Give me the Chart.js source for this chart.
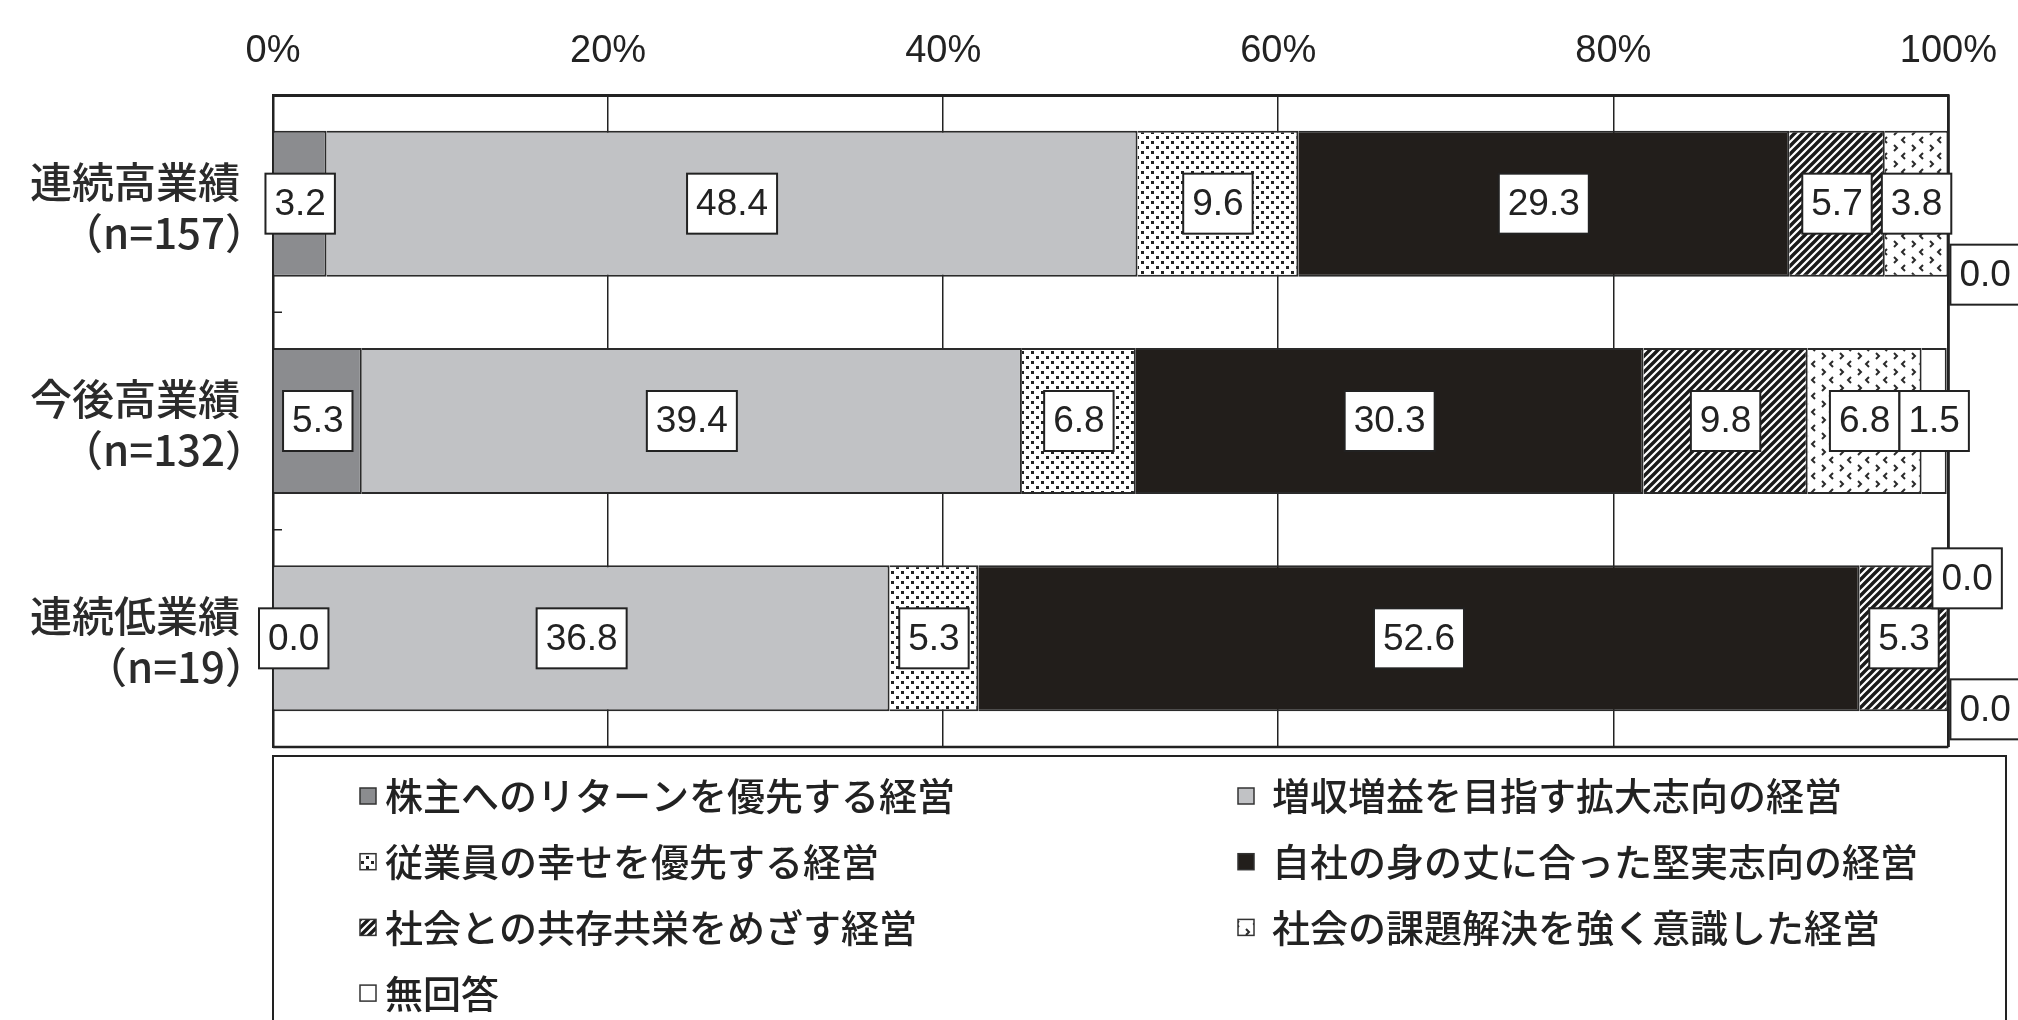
<!DOCTYPE html>
<html lang="ja">
<head>
<meta charset="utf-8">
<script src="https://cdn.jsdelivr.net/npm/chart.js@4.4.1/dist/chart.umd.min.js"></script>
<style>
  html, body { margin: 0; padding: 0; background: #fff; }
  #wrap { width: 2018px; height: 1020px; }
</style>
</head>
<body>
<div id="wrap"><canvas id="chart" width="2018" height="1020"></canvas></div>
<script>
// 回答区分
const categories = [
  ['連続高業績', '（n=157）'],
  ['今後高業績', '（n=132）'],
  ['連続低業績', '（n=19）']
];
const seriesNames = [
  '株主へのリターンを優先する経営',
  '増収増益を目指す拡大志向の経営',
  '従業員の幸せを優先する経営',
  '自社の身の丈に合った堅実志向の経営',
  '社会との共存共栄をめざす経営',
  '社会の課題解決を強く意識した経営',
  '無回答'
];
// 構成比（%）
const shareholderReturn = [3.2, 5.3, 0.0];
const growthOriented = [48.4, 39.4, 36.8];
const employeeHappiness = [9.6, 6.8, 5.3];
const steadyOriented = [29.3, 30.3, 52.6];
const coexistence = [5.7, 9.8, 5.3];
const socialIssues = [3.8, 6.8, 0.0];
const noAnswer = [0.0, 1.5, 0.0];
const xTicks = [0, 20, 40, 60, 80, 100];

const canvas = document.getElementById('chart');
const ctx = canvas.getContext('2d');

const INK = '#222222';
const JP = '"Noto Sans CJK JP", "Noto Sans CJK SC", sans-serif';
const NUM = '"Liberation Sans", Arial, sans-serif';
const NUM_NARROW = '"Liberation Sans Narrow", "Liberation Sans", Arial, sans-serif';

function makePattern(w, h, draw) {
  const c = document.createElement('canvas');
  c.width = w;
  c.height = h;
  const g = c.getContext('2d');
  g.fillStyle = '#ffffff';
  g.fillRect(0, 0, w, h);
  draw(g);
  return ctx.createPattern(c, 'repeat');
}

// 点描
const dotFill = makePattern(10, 10, g => {
  g.fillStyle = '#222222';
  g.fillRect(1, 1, 3, 3);
  g.fillRect(6, 6, 3, 3);
});

// 斜線
const hatchFill = makePattern(8, 8, g => {
  g.strokeStyle = '#1a1a1a';
  g.lineWidth = 3.4;
  g.beginPath();
  g.moveTo(0, 8); g.lineTo(8, 0);
  g.moveTo(-2, 2); g.lineTo(2, -2);
  g.moveTo(6, 10); g.lineTo(10, 6);
  g.stroke();
});

// 山形の小記号
const chevronFill = makePattern(18, 16, g => {
  g.strokeStyle = '#2a2a2a';
  g.lineWidth = 2;
  g.beginPath();
  g.moveTo(4, 1); g.lineTo(7, 4); g.lineTo(4, 7);
  g.moveTo(15, 9); g.lineTo(12, 12); g.lineTo(15, 15);
  g.stroke();
});

const seriesValues = [
  shareholderReturn, growthOriented, employeeHappiness,
  steadyOriented, coexistence, socialIssues, noAnswer
];
const seriesFills = ['#8b8c8f', '#c1c2c5', dotFill, '#221e1b', hatchFill, chevronFill, '#ffffff'];

const datasets = seriesValues.map((vals, i) => ({
  label: seriesNames[i],
  data: vals,
  backgroundColor: seriesFills[i],
  borderColor: '#2a2a2a',
  borderWidth: 2,
  barPercentage: 0.672,
  categoryPercentage: 1.0
}));

// 枠線とカテゴリ境界の目盛
const framePlugin = {
  id: 'frame',
  afterDatasetsDraw(chart) {
    const { ctx: c, chartArea: a, scales } = chart;
    c.save();
    c.strokeStyle = INK;
    c.lineWidth = 2.5;
    c.beginPath();
    c.moveTo(a.left, a.bottom);
    c.lineTo(a.right, a.bottom);
    c.moveTo(a.right, a.top);
    c.lineTo(a.right, a.bottom);
    c.stroke();
    c.lineWidth = 1.5;
    c.beginPath();
    for (let i = 1; i < categories.length; i++) {
      const y = (scales.y.getPixelForValue(i - 1) + scales.y.getPixelForValue(i)) / 2;
      c.moveTo(a.left, y);
      c.lineTo(a.left + 9, y);
    }
    c.stroke();
    c.restore();
  }
};

// カテゴリ名（2行、右端揃え）
const categoryLabelPlugin = {
  id: 'categoryLabels',
  afterDraw(chart) {
    const { ctx: c, scales } = chart;
    const inkRight = scales.y.right - 34;
    c.save();
    c.font = '500 42px ' + JP;
    c.fillStyle = '#2b2b2b';
    c.textAlign = 'left';
    c.textBaseline = 'middle';
    categories.forEach((lines, i) => {
      const y = scales.y.getPixelForValue(i);
      [-22, 29].forEach((dy, k) => {
        const m = c.measureText(lines[k]);
        c.fillText(lines[k], inkRight - m.actualBoundingBoxRight, y + dy);
      });
    });
    c.restore();
  }
};

// 数値ラベル（白地の枠付き）
const valueLabelPlugin = {
  id: 'valueLabels',
  afterDatasetsDraw(chart) {
    const { ctx: c, chartArea: a } = chart;
    const last = chart.data.datasets.length - 1;
    c.save();
    c.font = '37px ' + NUM;
    c.textAlign = 'center';
    c.textBaseline = 'middle';
    chart.data.datasets.forEach((ds, d) => {
      chart.getDatasetMeta(d).data.forEach((bar, i) => {
        const v = ds.data[i];
        const text = v.toFixed(1);
        const w = c.measureText(text).width + 18;
        const h = 60;
        let cx = (bar.x + bar.base) / 2;
        let cy = bar.y;
        if (v === 0 && bar.base >= a.right - 1) {
          // 右端のゼロ値は枠外へ
          if (d === last) {
            cx = a.right + w / 2 + 2;
            cy += 71;
          } else {
            cx = a.right + w / 2 - 16;
            cy -= 60;
          }
        } else {
          cx = Math.max(cx, a.left - 14 + w / 2);
        }
        c.fillStyle = '#ffffff';
        c.fillRect(cx - w / 2, cy - h / 2, w, h);
        c.strokeStyle = INK;
        c.lineWidth = 2;
        c.strokeRect(cx - w / 2, cy - h / 2, w, h);
        c.fillStyle = INK;
        c.fillText(text, cx, cy + 1);
      });
    });
    c.restore();
  }
};

// 凡例（2列）
const legendPlugin = {
  id: 'boxLegend',
  afterDraw(chart) {
    const { ctx: c, chartArea: a } = chart;
    const top = a.bottom + 9;
    c.save();
    c.strokeStyle = INK;
    c.lineWidth = 2;
    c.strokeRect(a.left, top, 2006 - a.left, 300);
    const colMarker = [360, 1238];
    const colText = [385, 1272];
    c.font = '500 38px ' + JP;
    c.textBaseline = 'middle';
    c.textAlign = 'left';
    chart.data.datasets.forEach((ds, i) => {
      const col = i % 2;
      const row = Math.floor(i / 2);
      const y = top + 40 + row * 65.7;
      const s = 16;
      c.fillStyle = ds.backgroundColor;
      c.fillRect(colMarker[col], y - s / 2, s, s);
      c.lineWidth = 1.5;
      c.strokeStyle = '#333333';
      c.strokeRect(colMarker[col], y - s / 2, s, s);
      c.fillStyle = INK;
      c.fillText(ds.label, colText[col], y);
    });
    c.restore();
  }
};

new Chart(ctx, {
  type: 'bar',
  data: { labels: categories, datasets: datasets },
  options: {
    responsive: false,
    animation: false,
    indexAxis: 'y',
    layout: { padding: { left: 0, right: 65, top: 0, bottom: 273 } },
    plugins: {
      legend: { display: false },
      tooltip: { enabled: false }
    },
    scales: {
      x: {
        position: 'top',
        stacked: true,
        min: 0,
        max: 100,
        afterBuildTicks: scale => { scale.ticks = xTicks.map(v => ({ value: v })); },
        afterFit: scale => { scale.height = 95; },
        ticks: {
          callback: v => v + '%',
          font: { family: NUM_NARROW, size: 38 },
          color: INK,
          padding: 21,
          maxRotation: 0
        },
        grid: {
          color: INK,
          lineWidth: ctx2 => (ctx2.tick && ctx2.tick.value === 100 ? 2.5 : 1.5),
          drawTicks: false
        },
        border: { display: true, color: INK, width: 3 }
      },
      y: {
        stacked: true,
        afterFit: scale => { scale.width = 273; },
        ticks: { display: false },
        grid: { display: false, drawTicks: false },
        border: { display: true, color: INK, width: 2.5 }
      }
    }
  },
  plugins: [framePlugin, categoryLabelPlugin, valueLabelPlugin, legendPlugin]
});
</script>
</body>
</html>
